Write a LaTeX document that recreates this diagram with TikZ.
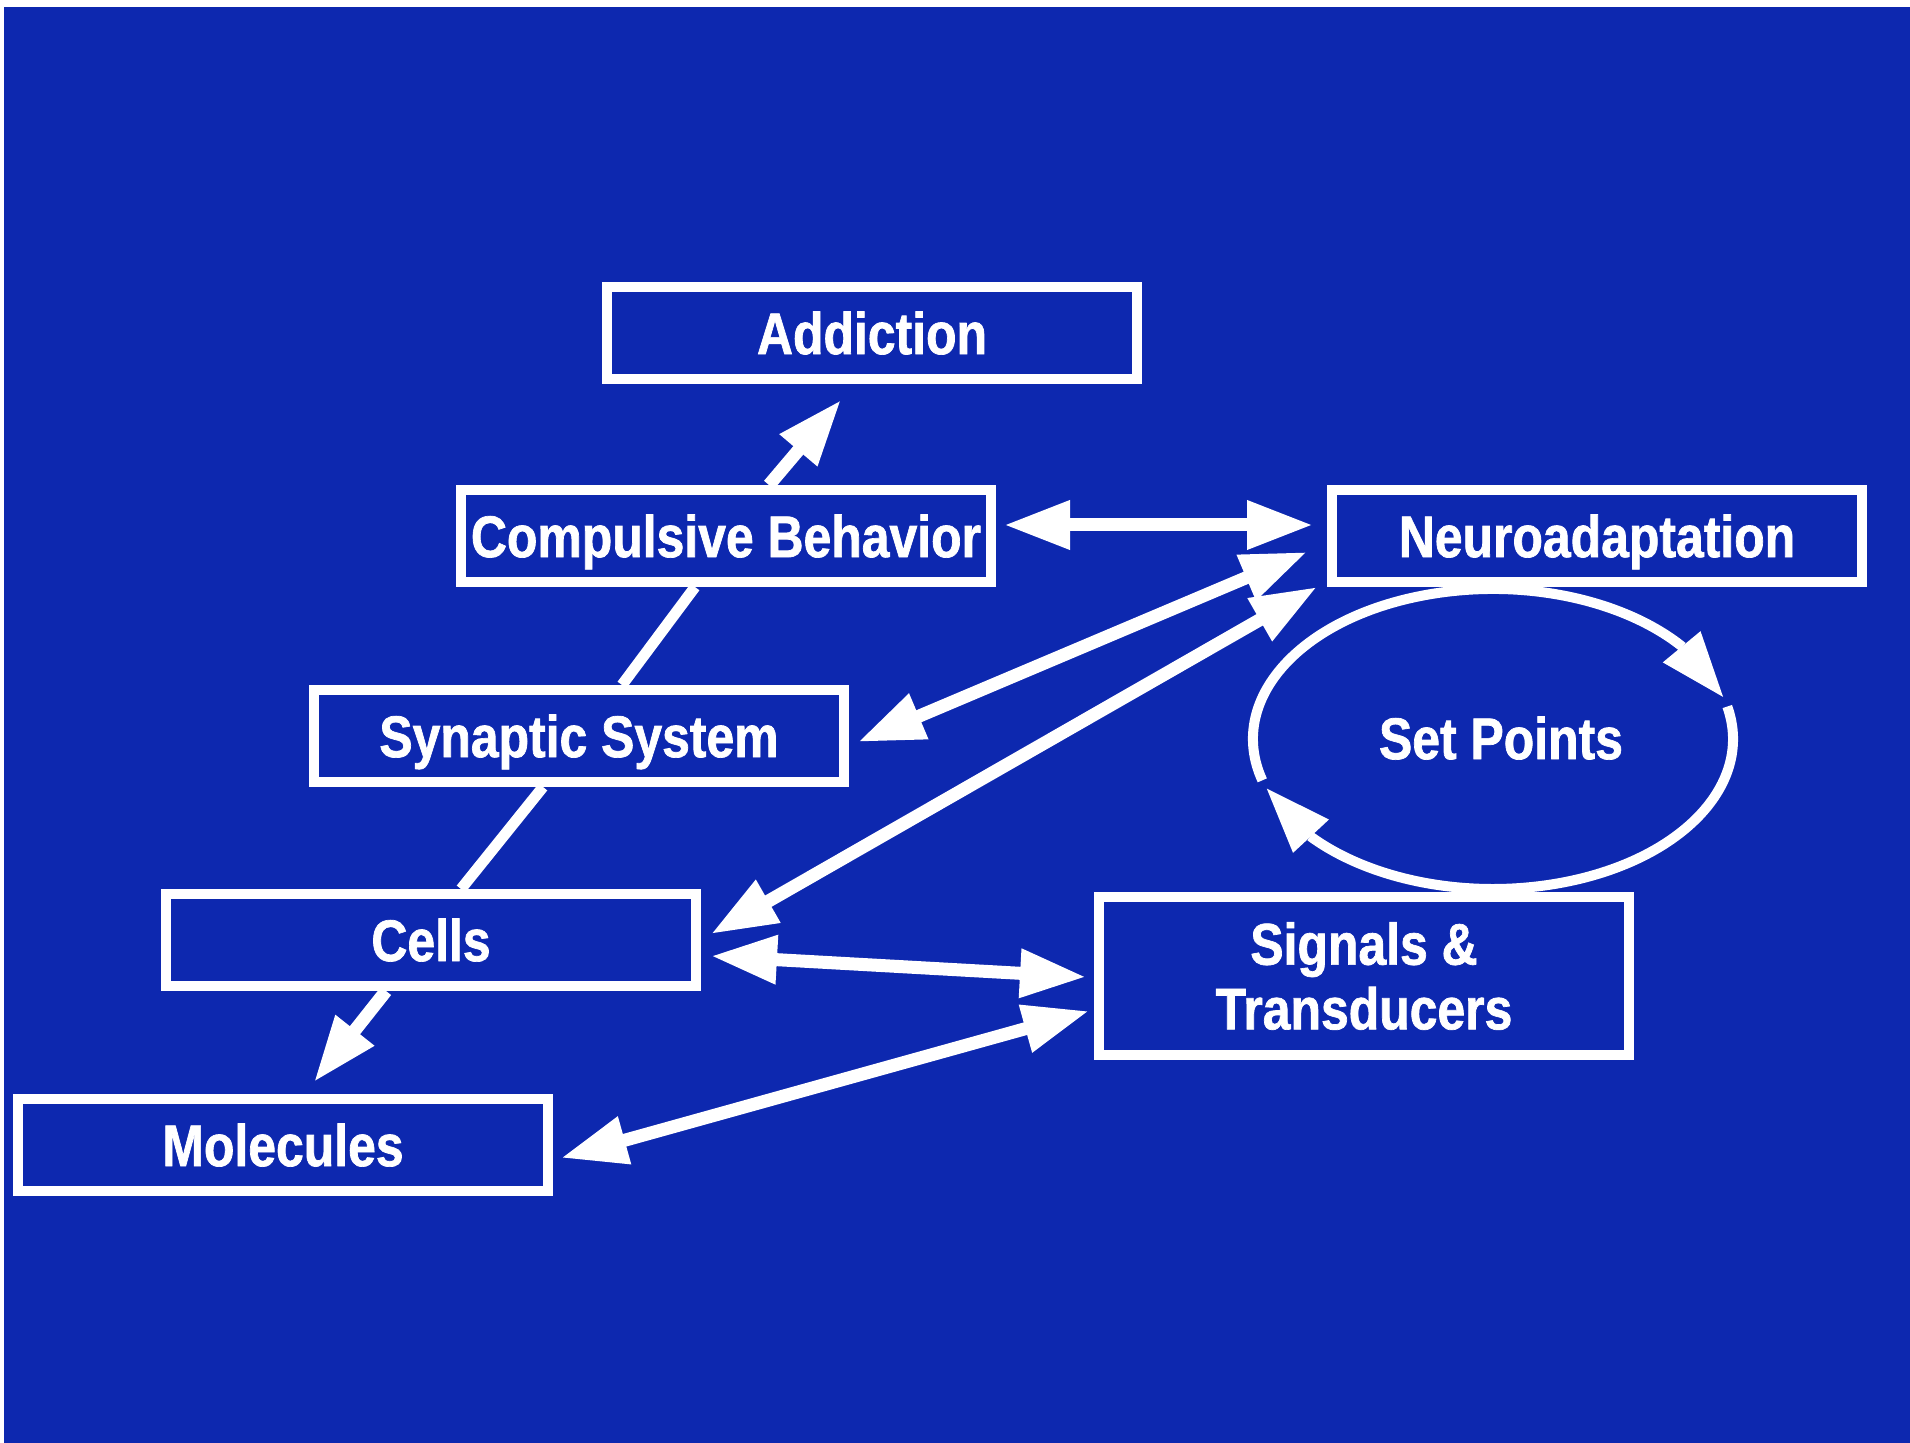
\documentclass[tikz,border=0pt]{standalone}
\usepackage{fontspec}
\usepackage{tikz}
\usetikzlibrary{positioning, arrows.meta, bending}
\usepackage{xcolor}

\newfontfamily\slidefont{Liberation Sans}[FakeStretch=0.85, BoldFeatures={FakeBold=1.2}]
\definecolor{slideblue}{RGB}{13,40,175}

\begin{document}
\begin{tikzpicture}[
    >={Triangle[length=6.6mm, width=4.6mm]},
    slidetext/.style={text=white, inner sep=0pt,
        font=\slidefont\bfseries\fontsize{16.7}{18.4}\selectfont},
    box/.style={slidetext, draw=white, line width=0.1cm, minimum width=5.30cm, minimum height=0.92cm},
    oneline/.style={text height=12pt, text depth=0pt},
    link/.style={white, line width=0.13cm},
    plain/.style={white, line width=0.11cm},
    loop/.style={white, line width=0.1cm}
]
    % Slide background
    \useasboundingbox (0,0) rectangle (19.10,14.43);
    \fill[slideblue] (0.04,0) rectangle (19.10,14.36);

    % Boxes
    \node[box, oneline] (addiction) at (8.72,11.10) {Addiction};
    \node[box, oneline] (behavior) at (7.26,9.07) {Compulsive Behavior};
    \node[box, oneline] (neuro) at (15.97,9.07) {Neuroadaptation};
    \node[box, oneline] (synaptic) at (5.79,7.07) {Synaptic System};
    \node[box, oneline] (cells) at (4.31,5.03) {Cells};
    \node[box, oneline] (molecules) at (2.83,2.98) {Molecules};
    \node[box, align=center, minimum height=1.58cm] (signals) at (13.64,4.67) {Signals \&\\Transducers};

    % Set points loop
    \coordinate (loopc) at (14.93,7.04);
    \node[slidetext, oneline] (setpoints) at (15.01,7.05) {Set Points};
    \draw[loop, ->] ([shift={(196:2.40 and 1.50)}]loopc) arc[start angle=196, end angle=16, x radius=2.40, y radius=1.50];
    \draw[loop, ->] ([shift={(12.5:2.40 and 1.50)}]loopc) arc[start angle=12.5, end angle=-161, x radius=2.40, y radius=1.50];

    % Plain links down the left column
    \draw[plain] ([xshift=-3.1mm]behavior.south) -- ([xshift=4.3mm]synaptic.north);
    \draw[plain] ([xshift=-3.6mm]synaptic.south) -- ([xshift=3.0mm]cells.north);

    % Arrows
    \draw[link, ->] ([xshift=4.3mm]behavior.north) -- ([xshift=-3.1mm, yshift=-1.6mm]addiction.south);
    \draw[link, ->] ([xshift=-4.5mm]cells.south) -- ([xshift=3.1mm, yshift=1.2mm]molecules.north);
    \draw[link, <->] ([xshift=0.8mm, yshift=1.1mm]behavior.east) -- ([xshift=-1.4mm, yshift=1.1mm]neuro.west);
    \draw[link, <->] ([xshift=0.9mm, yshift=-0.6mm]synaptic.east) -- ([xshift=-2.0mm, yshift=-1.6mm]neuro.west);
    \draw[link, <->] ([xshift=1.0mm, yshift=0.6mm]cells.east) -- ([xshift=-1.0mm]neuro.south west);
    \draw[link, <->] ([xshift=1.0mm, yshift=-1.6mm]cells.east) -- ([xshift=-0.8mm, yshift=-0.1mm]signals.west);
    \draw[link, <->] ([xshift=0.8mm, yshift=-1.3mm]molecules.east) -- ([xshift=-0.5mm, yshift=-3.5mm]signals.west);
\end{tikzpicture}
\end{document}
